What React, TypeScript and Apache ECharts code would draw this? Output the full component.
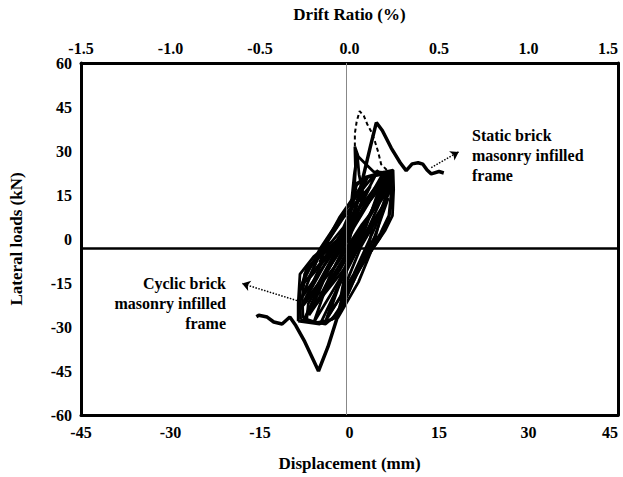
import React, { useEffect, useRef } from "react";
import * as echarts from "echarts";

// Axis ranges / tick labels
const dispRange = [-45, 45];
const dispInterval = 15;
const driftRange = [-1.5, 1.5];
const driftInterval = 0.5;
const loadRange = [-60, 60];
const loadInterval = 15;

// Static brick masonry infilled frame (monotonic, push and pull branches)
const staticPositive: number[][] = [
  [0, 0], [0.7, 7], [1.45, 14], [2.5, 23], [3.5, 31.5], [4.5, 39.7], [5.5, 37],
  [7, 31], [8.5, 26], [9.5, 23.3], [10.5, 25.6], [11.5, 26], [12.3, 25.5],
  [13, 23.5], [13.7, 22.2], [15, 23], [15.8, 22.5],
];
const staticNegative: number[][] = [
  [0, 0], [-0.3, -7], [-1, -18.5], [-2.2, -27.7], [-3.6, -36.7], [-5.2, -45],
  [-6, -41.5], [-7.5, -35], [-9, -29.5], [-10, -26.6], [-11.3, -29],
  [-12.7, -28.3], [-13.8, -26.6], [-15.2, -26], [-15.6, -26.5],
];

// Cyclic brick masonry infilled frame (hysteresis loops)
const loopOuter = [[-8.6, -28], [-8.6, -22], [-8.3, -12], [-6, -6], [-3, -1], [-1, 4], [0.3, 10], [1, 18], [2.5, 21], [5, 22.5], [7.3, 23.5], [7.4, 17], [7.2, 8], [6, 3], [4, -3], [2, -9], [0.5, -15], [-1, -22], [-2.5, -27], [-5, -29], [-8.6, -28]];
const loopPeak = [[-8.2, -27.5], [-8.3, -18], [-7.2, -10], [-4.5, -4.5], [-1.8, 0], [-0.2, 6], [0.8, 16], [1, 24], [0.9, 31.5], [1.5, 28], [2.5, 26], [4, 23], [6.8, 22.5], [7.2, 14], [6.5, 6], [5, 0], [3, -6], [1.2, -12], [-0.3, -19], [-1.8, -25], [-4, -29], [-8.2, -27.5]];
const loopG = [[-7.8, -27], [-7.9, -20], [-7.5, -12], [-5.5, -7], [-2.5, -2], [-0.5, 4], [0.6, 12], [1.2, 19], [3, 21], [5.5, 22], [7, 23], [7, 16], [6.6, 8], [5.2, 2], [3.3, -4], [1.5, -10], [0, -16], [-1.5, -23], [-3, -27.5], [-5.5, -28.5], [-7.8, -27]];
const loop2 = [[-8.3, -24], [-4.1, -8.5], [1.0, 7], [7.2, 22.5], [3.0, 7], [-2.1, -8.5], [-8.3, -24]];
const loop3 = [[-7.5, -27], [-3.7, -10.3], [1.0, 6.3], [6.8, 23], [3.0, 6.3], [-1.7, -10.3], [-7.5, -27]];
const loop4 = [[-6.8, -26], [-3.5, -10.2], [0.9, 5.7], [6.2, 21.5], [2.9, 5.7], [-1.5, -10.2], [-6.8, -26]];
const loop5 = [[-6, -28.5], [-3.2, -12.3], [0.7, 3.8], [5.5, 20], [2.7, 3.8], [-1.2, -12.3], [-6, -28.5]];
const loop6 = [[-5.5, -22], [-2.3, -8.7], [2.0, 4.7], [7.2, 18], [4.0, 4.7], [-0.3, -8.7], [-5.5, -22]];
const loop7 = [[-8.4, -17], [-5.0, -3.5], [-0.6, 10], [4.8, 23.5], [1.4, 10], [-3.0, -3.5], [-8.4, -17]];
const loop8 = [[-3.5, -26], [-1.2, -12.7], [2.2, 0.7], [6.5, 14], [4.2, 0.7], [0.8, -12.7], [-3.5, -26]];
const loop9 = [[-7, -14], [-4.5, -3.3], [-1, 7.7], [3.5, 18], [1, 7.7], [-2.5, -3.3], [-7, -14]];
const loop10 = [[-2, -27], [-0.5, -14.7], [2, -2.3], [5.5, 10], [4, -2.3], [1.5, -14.7], [-2, -27]];
const loop11 = [[-5, -8], [-3.5, -0.3], [-1, 7.3], [2.5, 15], [1, 7.3], [-1.5, -0.3], [-5, -8]];
const loop12 = [[-1.5, -20], [-0.7, -11.3], [1.2, -2.7], [4, 6], [3.2, -2.7], [1.3, -11.3], [-1.5, -20]];
const loop13 = [[-8, -20], [-5.3, -6.3], [-1.7, 7.3], [3, 21], [0.3, 7.3], [-3.3, -6.3], [-8, -20]];
const loop14 = [[-4, -28], [-1.3, -12], [2.3, 4], [7, 20], [4.3, 4], [0.7, -12], [-4, -28]];
const loop15 = [[-7.8, -22], [-4.6, -8], [0, 6], [0.8, 22], [1.3, 29], [1.6, 22], [2.6, 12], [-1.2, -3], [-5.5, -16], [-7.8, -22]];
const loop16 = [[-6.5, -20], [-2.8, -6], [1.5, 10], [6, 22], [6.8, 20], [3.5, 8], [-0.8, -6], [-4.5, -18], [-6.5, -20]];
const loop17 = [[-7.2, -28], [-6.9, -22], [-4, -12], [-0.5, 0], [3, 13], [5.8, 23], [6.3, 18], [3, 3], [0, -9], [-2.8, -20], [-4.8, -28.5], [-7.2, -28]];
const cyclicPeak: number[][] = [
  [0.9, 31.5], [0.9, 36], [1.2, 40], [1.7, 43.6], [2.4, 42], [3, 39],
  [3.7, 36.4], [4.3, 33], [4.8, 29.7], [5.3, 25.5], [6.5, 23],
];
const cyclicLoops = [loopOuter, loopPeak, loopG, loop2, loop3, loop4, loop5, loop6, loop7, loop8, loop9, loop10, loop11, loop12, loop13, loop14, loop15, loop16, loop17];

// Annotation arrows (data coords)
const staticArrow = [[13.7, 24.3], [18.3, 29.7]];
const cyclicArrow = [[-8.8, -21], [-18, -15.2]];
const zeroLoadLine = -3;
const zeroDispLine = -0.6;

const FONT = "Liberation Serif";

export default function App() {
  const ref = useRef<HTMLDivElement>(null);
  useEffect(() => {
    if (!ref.current) return;
    const chart = echarts.init(ref.current, undefined, { renderer: "svg" });
    const labelStyle = { color: "#000", fontFamily: FONT, fontWeight: "bold" as const, fontSize: 16 };
    const nameStyle = { color: "#000", fontFamily: FONT, fontWeight: "bold" as const, fontSize: 17 };
    const frameLine = { show: true, onZero: false, lineStyle: { color: "#000", width: 3 } };
    const loopSeries = cyclicLoops.map((d, i) => ({
      type: "line", name: "Cyclic " + i, data: d, showSymbol: false, z: 3,
      lineStyle: { color: "#000", width: 2.8 },
    }));
    chart.setOption({
      animation: false,
      backgroundColor: "#fff",
      grid: { left: 78, right: 5, top: 63, bottom: 58, containLabel: false },
      xAxis: [
        {
          type: "value", position: "bottom", min: dispRange[0], max: dispRange[1], interval: dispInterval,
          axisLine: frameLine, axisTick: { show: false }, splitLine: { show: false },
          axisLabel: { ...labelStyle, margin: 9, alignMaxLabel: "right" },
          name: "Displacement (mm)", nameLocation: "middle", nameGap: 40, nameTextStyle: nameStyle,
        },
        {
          type: "value", position: "top", min: driftRange[0], max: driftRange[1], interval: driftInterval,
          axisLine: frameLine, axisTick: { show: false }, splitLine: { show: false },
          axisLabel: { ...labelStyle, margin: 7, alignMaxLabel: "right", formatter: (v: number) => v.toFixed(1) },
          name: "Drift Ratio (%)", nameLocation: "middle", nameGap: 40, nameTextStyle: nameStyle,
        },
      ],
      yAxis: [
        {
          type: "value", position: "left", min: loadRange[0], max: loadRange[1], interval: loadInterval,
          axisLine: frameLine, axisTick: { show: false }, splitLine: { show: false },
          axisLabel: { ...labelStyle, margin: 9 },
          name: "Lateral loads (kN)", nameLocation: "middle", nameGap: 56, nameTextStyle: nameStyle,
        },
        {
          type: "value", position: "right", min: loadRange[0], max: loadRange[1], interval: loadInterval,
          axisLine: frameLine, axisTick: { show: false }, splitLine: { show: false }, axisLabel: { show: false },
        },
      ],
      series: [
        {
          type: "line", name: "ref", data: [[0, zeroLoadLine]], showSymbol: false, silent: true, z: 1,
          lineStyle: { width: 0 },
          markLine: {
            silent: true, symbol: "none", label: { show: false }, animation: false,
            data: [
              { yAxis: zeroLoadLine, lineStyle: { color: "#000", width: 2.5, type: "solid" } },
              { xAxis: zeroDispLine, lineStyle: { color: "#888", width: 1, type: "solid" } },
            ],
          },
        },
        ...loopSeries,
        {
          type: "line", name: "Cyclic peak", data: cyclicPeak, showSymbol: false, z: 3,
          lineStyle: { color: "#000", width: 2, type: [4, 3] },
        },
        {
          type: "line", name: "Static +", data: staticPositive, showSymbol: false, z: 4,
          lineStyle: { color: "#000", width: 3.5 },
        },
        {
          type: "line", name: "Static -", data: staticNegative, showSymbol: false, z: 4,
          lineStyle: { color: "#000", width: 3.5 },
          markLine: {
            silent: true, label: { show: false }, animation: false,
            symbol: ["none", "arrow"], symbolSize: 8,
            lineStyle: { color: "#000", width: 1.5, type: "dotted" },
            data: [
              [{ coord: staticArrow[0] }, { coord: staticArrow[1] }],
              [{ coord: cyclicArrow[0] }, { coord: cyclicArrow[1] }],
            ],
          },
        },
      ],
      graphic: [
        {
          type: "text", x: 472, y: 125,
          style: { text: "Static brick\nmasonry infilled\nframe", fontFamily: FONT, fontWeight: "bold", fontSize: 16, lineHeight: 20, fill: "#000" },
        },
        {
          type: "text", x: 226, y: 273,
          style: { text: "Cyclic brick\nmasonry infilled\nframe", fontFamily: FONT, fontWeight: "bold", fontSize: 16, lineHeight: 20, fill: "#000", align: "right" },
        },
      ],
    });
    return () => chart.dispose();
  }, []);
  return <div ref={ref} style={{ position: "absolute", left: 0, top: 0, width: 623, height: 477 }} />;
}
